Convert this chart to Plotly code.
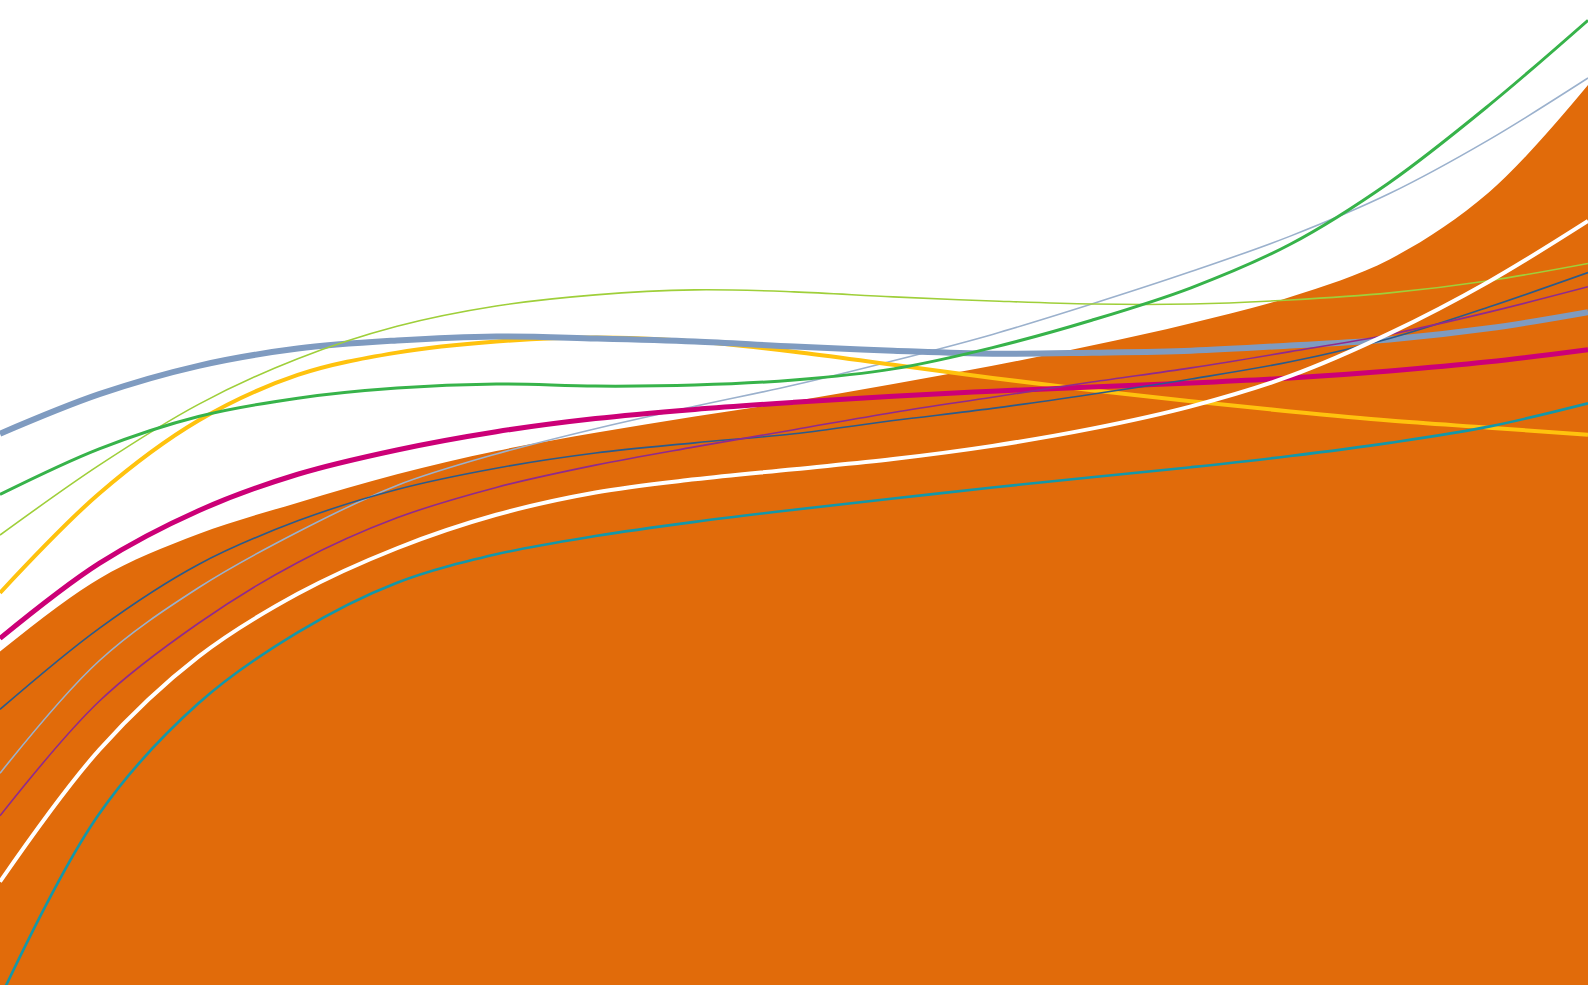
import plotly.graph_objects as go

# Horizontal positions (evenly spaced sample positions across the chart)
x = [0, 98, 196, 294, 392, 490, 588, 686, 784, 882, 980, 1078, 1176, 1274, 1372, 1470, 1568]

# Series values (height above the bottom of the chart)
area_orange = [329, 401, 445, 476, 504, 527, 545, 561, 576, 593, 611, 631, 653, 679, 716, 782, 888]
white_line = [102, 232, 324, 386, 431, 464, 486, 499, 509, 519, 532, 549, 571, 601, 643, 694, 754]
teal_line = [-13, 169, 278, 348, 397, 425, 443, 457, 469, 480, 491, 501, 511, 522, 535, 551, 574]
purple_line = [167, 280, 357, 417, 461, 491, 513, 531, 548, 565, 580, 595, 609, 625, 642, 664, 689]
darkblue_line = [272, 352, 415, 458, 489, 510, 525, 535, 544, 557, 569, 583, 598, 615, 638, 669, 703]
lightblue_line = [209, 320, 392, 447, 493, 524, 549, 571, 592, 616, 642, 672, 704, 739, 781, 834, 895]
magenta_line = [342, 416, 468, 504, 528, 546, 559, 568, 575, 581, 586, 590, 594, 599, 606, 615, 627]
yellow_line = [387, 485, 557, 602, 624, 635, 639, 635, 625, 612, 599, 587, 576, 566, 557, 550, 543]
green_line = [484, 529, 561, 579, 589, 593, 591, 592, 597, 608, 629, 656, 688, 731, 792, 868, 952]
lightgreen_line = [444, 513, 573, 618, 650, 670, 681, 686, 684, 679, 675, 672, 672, 676, 683, 695, 712]
steelblue_line = [544, 583, 611, 628, 636, 640, 638, 635, 630, 626, 623, 624, 626, 631, 637, 648, 664]

fig = go.Figure()

fig.add_trace(go.Scatter(x=x, y=area_orange, mode="lines", line=dict(width=0, shape="spline", smoothing=1.0),
                         fill="tozeroy", fillcolor="#E16B0A", hoverinfo="skip"))

lines = [
    (lightblue_line, "#9BB1CD", 1.6),
    (yellow_line, "#FFC20E", 4.0),
    (steelblue_line, "#7F9BC0", 6.0),
    (lightgreen_line, "#9FCF3A", 1.6),
    (green_line, "#37B34A", 3.0),
    (magenta_line, "#CC0077", 5.0),
    (darkblue_line, "#2A5B8C", 1.6),
    (purple_line, "#8F2A8F", 1.6),
    (teal_line, "#1497A9", 2.6),
    (white_line, "#FFFFFF", 4.0),
]
for ys, color, w in lines:
    fig.add_trace(go.Scatter(x=x, y=ys, mode="lines",
                             line=dict(color=color, width=w, shape="spline", smoothing=1.0),
                             hoverinfo="skip"))

fig.update_layout(
    width=1588, height=985,
    margin=dict(l=0, r=0, t=0, b=0, pad=0),
    paper_bgcolor="white", plot_bgcolor="white",
    showlegend=False,
    xaxis=dict(range=[0, 1568], visible=False, fixedrange=True),
    yaxis=dict(range=[0, 972], visible=False, fixedrange=True),
)

fig.write_html("out.html", config={"displayModeBar": False},
               post_script="document.body.style.margin='0';document.body.style.overflow='hidden';")
